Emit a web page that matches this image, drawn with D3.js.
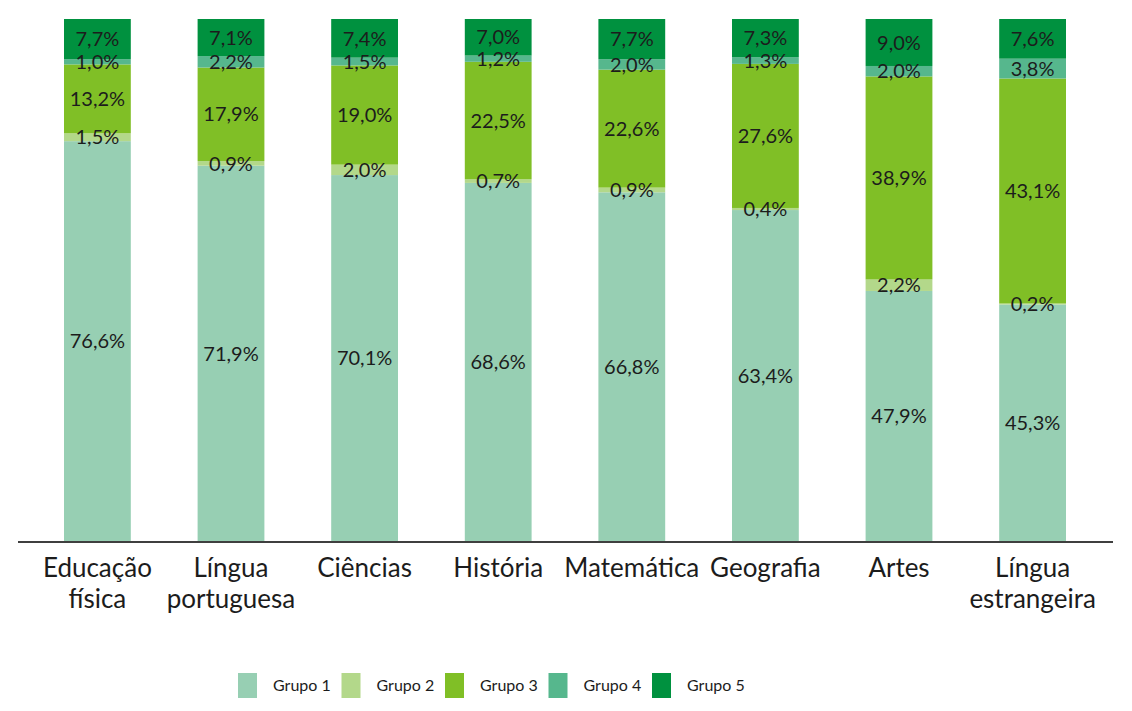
<!DOCTYPE html>
<html>
<head>
<meta charset="utf-8">
<script src="https://cdn.jsdelivr.net/npm/d3@7"></script>
<style>
  body { margin: 0; background: #fff; }
  text { font-family: Lato, "Open Sans", sans-serif; fill: #1c1c1c; }
</style>
</head>
<body>
<script>
var categories = ["Educação física", "Língua portuguesa", "Ciências", "História",
  "Matemática", "Geografia", "Artes", "Língua estrangeira"];
var categoryLines = [["Educação", "física"], ["Língua", "portuguesa"], ["Ciências"], ["História"],
  ["Matemática"], ["Geografia"], ["Artes"], ["Língua", "estrangeira"]];
var groups = ["Grupo 1", "Grupo 2", "Grupo 3", "Grupo 4", "Grupo 5"];
var grupo1 = [76.6, 71.9, 70.1, 68.6, 66.8, 63.4, 47.9, 45.3];
var grupo2 = [1.5, 0.9, 2.0, 0.7, 0.9, 0.4, 2.2, 0.2];
var grupo3 = [13.2, 17.9, 19.0, 22.5, 22.6, 27.6, 38.9, 43.1];
var grupo4 = [1.0, 2.2, 1.5, 1.2, 2.0, 1.3, 2.0, 3.8];
var grupo5 = [7.7, 7.1, 7.4, 7.0, 7.7, 7.3, 9.0, 7.6];
var colors = ["#97cfb3", "#b3d88a", "#80bf26", "#56b78d", "#00913f"];

var width = 1132, height = 711;
var plotTop = 19, baseline = 541;

var rows = categories.map(function(c, i) {
  return {cat: c, "Grupo 1": grupo1[i], "Grupo 2": grupo2[i], "Grupo 3": grupo3[i],
    "Grupo 4": grupo4[i], "Grupo 5": grupo5[i]};
});
var series = d3.stack().keys(groups)(rows);

var xScale = d3.scaleBand()
  .domain(categories)
  .range([30.6, 1099.4])
  .paddingInner(0.5)
  .paddingOuter(0.25);

var yScale = d3.scaleLinear()
  .domain([0, 100])
  .range([baseline, plotTop]);

var colorScale = d3.scaleOrdinal().domain(groups).range(colors);

var svg = d3.select("body").append("svg")
  .attr("width", width)
  .attr("height", height);

var layers = svg.selectAll(".layer")
  .data(series)
  .enter().append("g")
  .attr("class", "layer")
  .attr("fill", function(d) { return colorScale(d.key); });

layers.selectAll("rect")
  .data(function(d) { return d; })
  .enter().append("rect")
  .attr("x", function(d) { return xScale(d.data.cat); })
  .attr("width", xScale.bandwidth())
  .attr("y", function(d) { return yScale(d[1]); })
  .attr("height", function(d) { return yScale(d[0]) - yScale(d[1]); });

// labels drawn after all bars so they sit on top
var labelLayers = svg.selectAll(".labels")
  .data(series)
  .enter().append("g")
  .attr("class", "labels");

labelLayers.selectAll("text")
  .data(function(d) { return d; })
  .enter().append("text")
  .attr("x", function(d) { return xScale(d.data.cat) + xScale.bandwidth() / 2; })
  .attr("y", function(d) { return (yScale(d[0]) + yScale(d[1])) / 2; })
  .attr("dy", "0.36em")
  .attr("text-anchor", "middle")
  .style("font-size", "20px")
  .text(function(d) { return (d[1] - d[0]).toFixed(1).replace(".", ",") + "%"; });

// axis line
svg.append("line")
  .attr("x1", 18).attr("x2", 1113)
  .attr("y1", baseline + 1).attr("y2", baseline + 1)
  .attr("stroke", "#3f3f3f")
  .attr("stroke-width", 2);

// category labels
var catLabels = svg.selectAll(".cat")
  .data(categories)
  .enter().append("text")
  .attr("class", "cat")
  .attr("text-anchor", "middle")
  .style("font-size", "26px")
  .attr("transform", function(d) {
    return "translate(" + (xScale(d) + xScale.bandwidth() / 2) + ",577)";
  });

catLabels.selectAll("tspan")
  .data(function(d, i) { return categoryLines[i]; })
  .enter().append("tspan")
  .attr("x", 0)
  .attr("y", function(d, i) { return i * 31; })
  .text(function(d) { return d; });

// legend
var legend = svg.selectAll(".legend")
  .data(groups)
  .enter().append("g")
  .attr("class", "legend")
  .attr("transform", function(d, i) { return "translate(" + (238 + i * 103.5) + ",673)"; });

legend.append("rect")
  .attr("width", 19)
  .attr("height", 25)
  .attr("fill", function(d) { return colorScale(d); });

legend.append("text")
  .attr("x", 35)
  .attr("y", 18)
  .style("font-size", "16px")
  .text(function(d) { return d; });
</script>
</body>
</html>
